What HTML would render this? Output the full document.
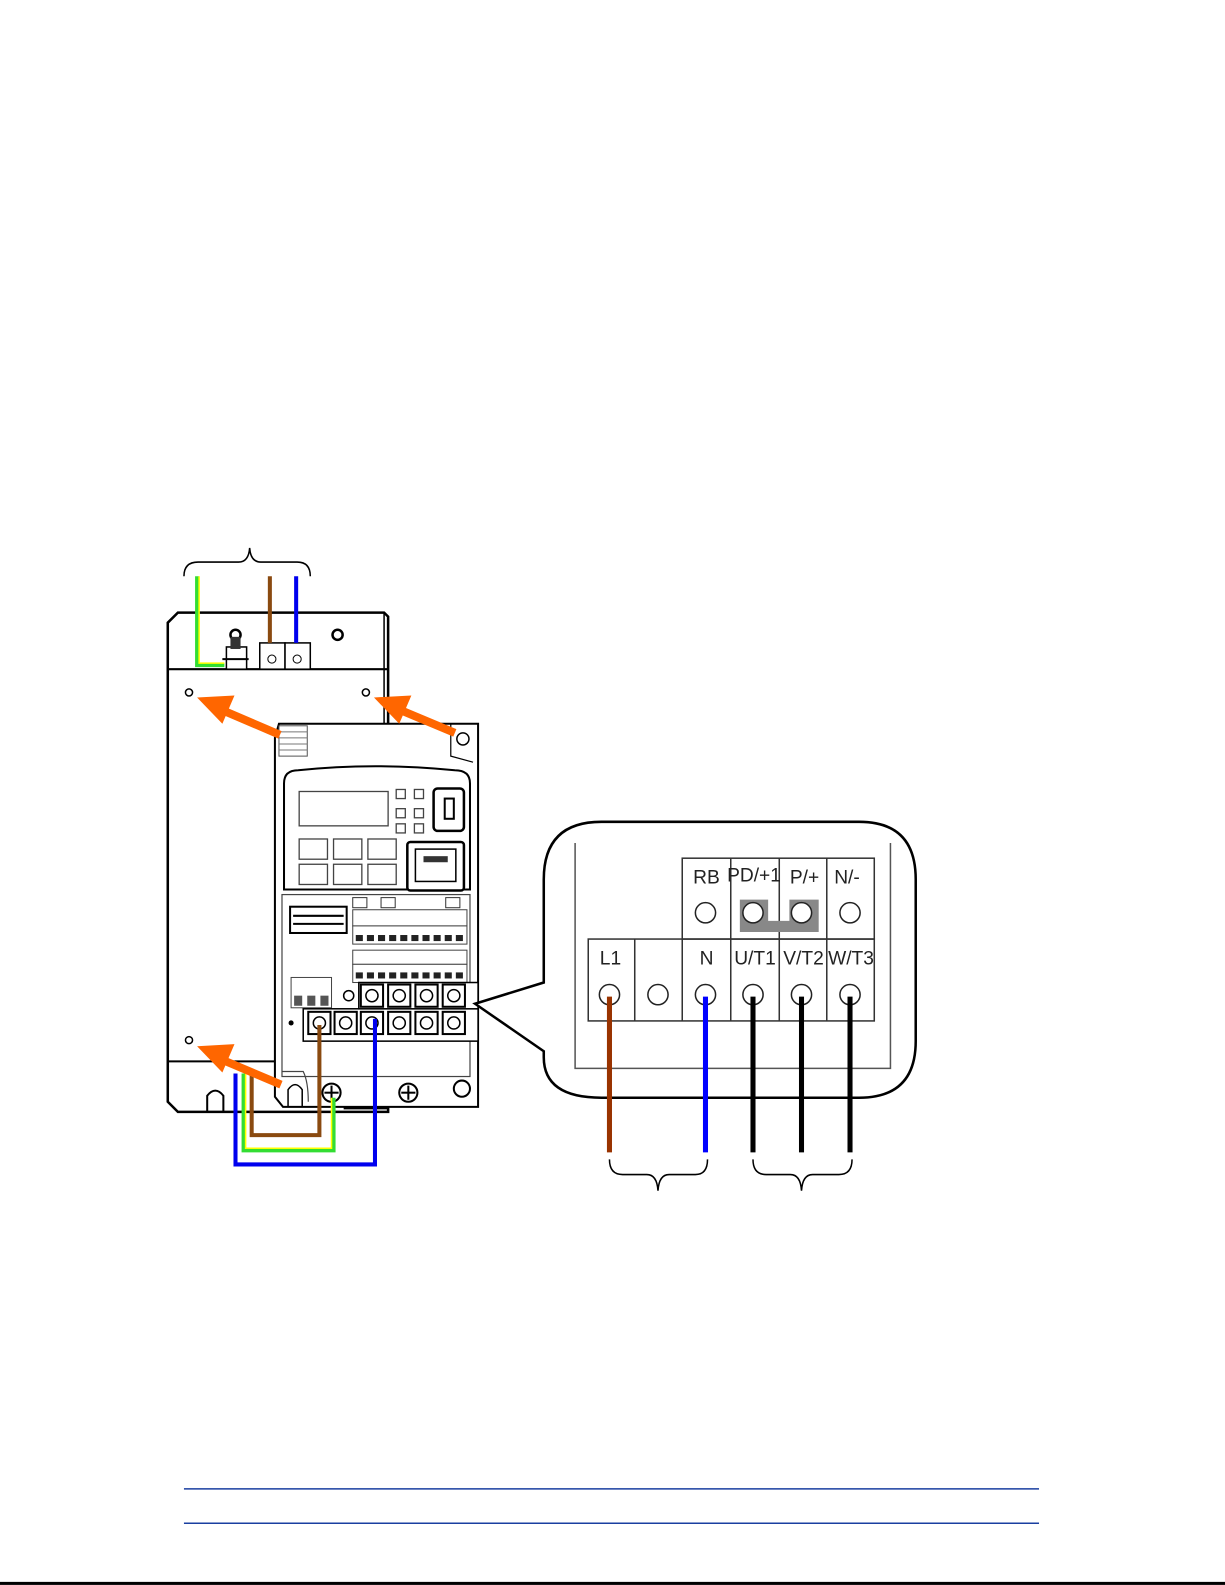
<!DOCTYPE html>
<html><head><meta charset="utf-8"><style>
html,body{margin:0;padding:0;background:#fff;}
svg{display:block}
text{font-family:"Liberation Sans",sans-serif;}
</style></head><body>
<svg width="1225" height="1585" viewBox="0 0 1212 1568" xmlns="http://www.w3.org/2000/svg">
<rect width="1212" height="1568" fill="#fff"/>
<!-- top brace -->
<path d="M182,570 Q182,556 196,556 L236,556 Q246,556 247,542 Q248,556 258,556 L294,556 Q307,556 307,570" fill="none" stroke="#000" stroke-width="1.5"/>
<!-- filter panel -->
<path d="M166,616 L176,606 L380,606 L384,610 L384,1100 L176,1100 L166,1090 Z" fill="#fff" stroke="#000" stroke-width="2.5"/>
<line x1="380" y1="606" x2="380" y2="716" stroke="#000" stroke-width="1.5"/>
<line x1="166" y1="662" x2="384" y2="662" stroke="#000" stroke-width="2"/>
<line x1="166" y1="1050" x2="272" y2="1050" stroke="#000" stroke-width="2"/>
<path d="M205,1100 L205,1084 Q213,1074 221,1084 L221,1100" fill="none" stroke="#000" stroke-width="2"/>
<line x1="340" y1="1096" x2="384" y2="1096" stroke="#000" stroke-width="3"/>
<circle cx="233" cy="628" r="5" fill="#fff" stroke="#000" stroke-width="2.5"/>
<circle cx="334" cy="628" r="5" fill="#fff" stroke="#000" stroke-width="2.5"/>
<circle cx="187" cy="685" r="3.5" fill="#fff" stroke="#000" stroke-width="1.5"/>
<circle cx="362" cy="685" r="3.5" fill="#fff" stroke="#000" stroke-width="1.5"/>
<circle cx="187" cy="1029" r="3.5" fill="#fff" stroke="#000" stroke-width="1.5"/>
<!-- earth stud and terminals -->
<rect x="224" y="640" width="20" height="22" fill="#fff" stroke="#000" stroke-width="1.5"/>
<rect x="228" y="630" width="10" height="12" fill="#333"/>
<line x1="220" y1="652" x2="246" y2="652" stroke="#000" stroke-width="2"/>
<rect x="257" y="636" width="25" height="26" fill="#fff" stroke="#000" stroke-width="1.5"/>
<rect x="282" y="636" width="25" height="26" fill="#fff" stroke="#000" stroke-width="1.5"/>
<circle cx="269" cy="652" r="4" fill="none" stroke="#000"/>
<circle cx="294" cy="652" r="4" fill="none" stroke="#000"/>
<!-- top wires -->
<polyline points="195,570 195,658 222,658" fill="none" stroke="#33dd33" stroke-width="4"/>
<polyline points="197,570 197,656 222,656" fill="none" stroke="#ffff00" stroke-width="1.5"/>
<line x1="267" y1="570" x2="267" y2="636" stroke="#8a4a10" stroke-width="4"/>
<line x1="293" y1="570" x2="293" y2="636" stroke="#0000ee" stroke-width="4"/>
<!-- drive body -->
<path d="M272,730 L276,716 L473,716 L473,1095 L280,1095 L272,1085 Z" fill="#fff" stroke="#000" stroke-width="2"/>
<rect x="276" y="718" width="28" height="30" fill="#fff" stroke="#555" stroke-width="1"/>
<g stroke="#777" stroke-width="1"><line x1="276" y1="724" x2="304" y2="724"/><line x1="276" y1="730" x2="304" y2="730"/><line x1="276" y1="736" x2="304" y2="736"/><line x1="276" y1="742" x2="304" y2="742"/></g>
<path d="M446,716 L446,748 L468,754" fill="none" stroke="#000" stroke-width="1.2"/>
<circle cx="458" cy="731" r="6" fill="#fff" stroke="#000" stroke-width="1.5"/>
<path d="M281,775 Q281,762 295,762 Q370,754 450,762 Q465,762 465,775 L465,880 L281,880 Z" fill="#fff" stroke="#000" stroke-width="2"/>
<rect x="296" y="783" width="88" height="34" fill="#fff" stroke="#444" stroke-width="1.3"/>
<g fill="#fff" stroke="#444" stroke-width="1.3">
<rect x="392" y="781" width="9" height="9"/><rect x="410" y="781" width="9" height="9"/>
<rect x="392" y="800" width="9" height="9"/><rect x="410" y="800" width="9" height="9"/>
<rect x="392" y="815" width="9" height="9"/><rect x="410" y="815" width="9" height="9"/>
<rect x="296" y="830" width="28" height="20"/><rect x="330" y="830" width="28" height="20"/><rect x="364" y="830" width="28" height="20"/>
<rect x="296" y="855" width="28" height="20"/><rect x="330" y="855" width="28" height="20"/><rect x="364" y="855" width="28" height="20"/>
</g>
<rect x="429" y="780" width="30" height="42" rx="4" fill="#fff" stroke="#000" stroke-width="2.5"/>
<rect x="440" y="790" width="9" height="20" fill="#fff" stroke="#000" stroke-width="2"/>
<rect x="403" y="833" width="56" height="48" rx="3" fill="#fff" stroke="#000" stroke-width="2.5"/>
<rect x="411" y="840" width="40" height="32" fill="#fff" stroke="#000" stroke-width="1.5"/>
<rect x="419" y="847" width="24" height="6" fill="#333"/>
<!-- terminal area -->
<rect x="279" y="885" width="186" height="180" fill="#fff" stroke="#444" stroke-width="1.2"/>
<rect x="287" y="897" width="56" height="26" fill="#fff" stroke="#000" stroke-width="2"/>
<g stroke="#000" stroke-width="2"><line x1="290" y1="906" x2="340" y2="906"/><line x1="290" y1="914" x2="340" y2="914"/></g>
<rect x="349" y="900" width="113" height="16" fill="#fff" stroke="#444"/>
<rect x="349" y="916" width="113" height="18" fill="#fff" stroke="#444"/>
<rect x="349" y="940" width="113" height="14" fill="#fff" stroke="#444"/>
<rect x="349" y="954" width="113" height="18" fill="#fff" stroke="#444"/>
<g fill="#222">
<rect x="352" y="925" width="7" height="6"/><rect x="363" y="925" width="7" height="6"/><rect x="374" y="925" width="7" height="6"/><rect x="385" y="925" width="7" height="6"/><rect x="396" y="925" width="7" height="6"/><rect x="407" y="925" width="7" height="6"/><rect x="418" y="925" width="7" height="6"/><rect x="429" y="925" width="7" height="6"/><rect x="440" y="925" width="7" height="6"/><rect x="451" y="925" width="7" height="6"/>
<rect x="352" y="962" width="7" height="6"/><rect x="363" y="962" width="7" height="6"/><rect x="374" y="962" width="7" height="6"/><rect x="385" y="962" width="7" height="6"/><rect x="396" y="962" width="7" height="6"/><rect x="407" y="962" width="7" height="6"/><rect x="418" y="962" width="7" height="6"/><rect x="429" y="962" width="7" height="6"/><rect x="440" y="962" width="7" height="6"/><rect x="451" y="962" width="7" height="6"/>
</g>
<g fill="#fff" stroke="#333"><rect x="349" y="888" width="14" height="10"/><rect x="377" y="888" width="14" height="10"/><rect x="441" y="888" width="14" height="10"/></g>
<rect x="288" y="967" width="40" height="30" fill="#fff" stroke="#444"/>
<g fill="#555"><rect x="291" y="985" width="8" height="10"/><rect x="304" y="985" width="8" height="10"/><rect x="317" y="985" width="8" height="10"/></g>
<circle cx="345" cy="985" r="5" fill="#fff" stroke="#000" stroke-width="1.5"/>
<rect x="300" y="998" width="173" height="32" fill="#fff" stroke="#000" stroke-width="1.5"/>
<rect x="355" y="972" width="118" height="26" fill="#fff" stroke="#000" stroke-width="1.5"/>
<g fill="#fff" stroke="#000" stroke-width="2">
<rect x="357" y="974" width="22" height="22"/><rect x="384" y="974" width="22" height="22"/><rect x="411" y="974" width="22" height="22"/><rect x="438" y="974" width="22" height="22"/>
<rect x="305" y="1001" width="22" height="22"/><rect x="331" y="1001" width="22" height="22"/><rect x="357" y="1001" width="22" height="22"/><rect x="384" y="1001" width="22" height="22"/><rect x="411" y="1001" width="22" height="22"/><rect x="438" y="1001" width="22" height="22"/>
</g>
<g fill="none" stroke="#000" stroke-width="1.5">
<circle cx="368" cy="985" r="6"/><circle cx="395" cy="985" r="6"/><circle cx="422" cy="985" r="6"/><circle cx="449" cy="985" r="6"/>
<circle cx="316" cy="1012" r="6"/><circle cx="342" cy="1012" r="6"/><circle cx="368" cy="1012" r="6"/><circle cx="395" cy="1012" r="6"/><circle cx="422" cy="1012" r="6"/><circle cx="449" cy="1012" r="6"/>
</g>
<circle cx="288" cy="1012" r="2.5" fill="#000"/>
<path d="M279,1060 L300,1060 Q305,1070 305,1090" fill="none" stroke="#444" stroke-width="1.2"/>
<path d="M285,1095 L285,1078 Q292,1068 299,1078 L299,1095" fill="none" stroke="#000" stroke-width="1.5"/>
<g fill="#fff" stroke="#000" stroke-width="2">
<circle cx="328" cy="1081" r="9"/><circle cx="404" cy="1081" r="9"/><circle cx="457" cy="1077" r="8"/>
</g>
<g stroke="#000" stroke-width="2"><line x1="321" y1="1081" x2="335" y2="1081"/><line x1="328" y1="1074" x2="328" y2="1088"/><line x1="397" y1="1081" x2="411" y2="1081"/><line x1="404" y1="1074" x2="404" y2="1088"/></g>
<!-- bottom wires -->
<polyline points="233,1062 233,1152 371,1152 371,1008" fill="none" stroke="#0000ee" stroke-width="4"/>
<polyline points="241,1062 241,1138 330,1138 330,1086" fill="none" stroke="#33dd33" stroke-width="4"/>
<polyline points="243,1062 243,1136 328,1136 328,1086" fill="none" stroke="#ffff00" stroke-width="1.5"/>
<polyline points="249,1062 249,1123 316,1123 316,1014" fill="none" stroke="#8a4a10" stroke-width="4"/>
<!-- orange arrows -->
<g fill="#ff6600">
<line x1="277" y1="727" x2="214" y2="700" stroke="#ff6600" stroke-width="8"/>
<polygon points="195,690 232,688 220,716"/>
<line x1="450" y1="725" x2="388" y2="699" stroke="#ff6600" stroke-width="8"/>
<polygon points="370,690 407,688 395,716"/>
<line x1="278" y1="1073" x2="214" y2="1046" stroke="#ff6600" stroke-width="8"/>
<polygon points="195,1035 232,1033 220,1061"/>
</g>
<!-- callout -->
<path d="M470,993 L538,972 L538,870 Q538,813 595,813 L850,813 Q906,813 906,870 L906,1030 Q906,1086 850,1086 L595,1086 Q538,1086 538,1046 L538,1040 Z" fill="#fff" stroke="#000" stroke-width="2.5"/>
<polyline points="569,834 569,1057 881,1057 881,834" fill="none" stroke="#555" stroke-width="1.5"/>
<g fill="none" stroke="#333" stroke-width="1.5">
<rect x="675" y="849" width="190" height="80"/>
<line x1="723" y1="849" x2="723" y2="1010"/><line x1="771" y1="849" x2="771" y2="1010"/><line x1="818" y1="849" x2="818" y2="1010"/>
<rect x="582" y="929" width="283" height="81"/>
<line x1="628" y1="929" x2="628" y2="1010"/><line x1="675" y1="929" x2="675" y2="1010"/>
</g>
<path d="M732,890 L760,890 L760,911 L781,911 L781,890 L810,890 L810,922 L732,922 Z" fill="#888"/>
<g fill="#fff" stroke="#222" stroke-width="1.5">
<circle cx="698" cy="903" r="10"/><circle cx="745" cy="903" r="10"/><circle cx="793" cy="903" r="10"/><circle cx="841" cy="903" r="10"/>
<circle cx="603" cy="984" r="10"/><circle cx="651" cy="984" r="10"/><circle cx="698" cy="984" r="10"/><circle cx="745" cy="984" r="10"/><circle cx="793" cy="984" r="10"/><circle cx="841" cy="984" r="10"/>
</g>
<g font-size="19" fill="#222" text-anchor="middle">
<text x="699" y="874">RB</text><text x="746" y="872">PD/+1</text><text x="796" y="874">P/+</text><text x="838" y="874">N/-</text>
<text x="604" y="954">L1</text><text x="699" y="954">N</text><text x="747" y="954">U/T1</text><text x="795" y="954">V/T2</text><text x="842" y="954">W/T3</text>
</g>
<g stroke-width="5">
<line x1="603" y1="986" x2="603" y2="1140" stroke="#993300"/>
<line x1="698" y1="986" x2="698" y2="1140" stroke="#0000ff"/>
<line x1="745" y1="986" x2="745" y2="1140" stroke="#000"/>
<line x1="793" y1="986" x2="793" y2="1140" stroke="#000"/>
<line x1="841" y1="986" x2="841" y2="1140" stroke="#000"/>
</g>
<g fill="none" stroke="#000" stroke-width="1.5">
<path d="M603,1147 Q603,1162 616,1162 L640,1162 Q650,1162 651,1178 Q652,1162 662,1162 L688,1162 Q700,1162 700,1147"/>
<path d="M745,1147 Q745,1162 758,1162 L782,1162 Q792,1162 793,1178 Q794,1162 804,1162 L830,1162 Q843,1162 843,1147"/>
</g>
<!-- footer lines -->
<line x1="182" y1="1473" x2="1028" y2="1473" stroke="#1a3fa0" stroke-width="1.5"/>
<line x1="182" y1="1507" x2="1028" y2="1507" stroke="#1a3fa0" stroke-width="1.5"/>
<rect x="0" y="1565" width="1212" height="3" fill="#000"/>
</svg>
</body></html>
